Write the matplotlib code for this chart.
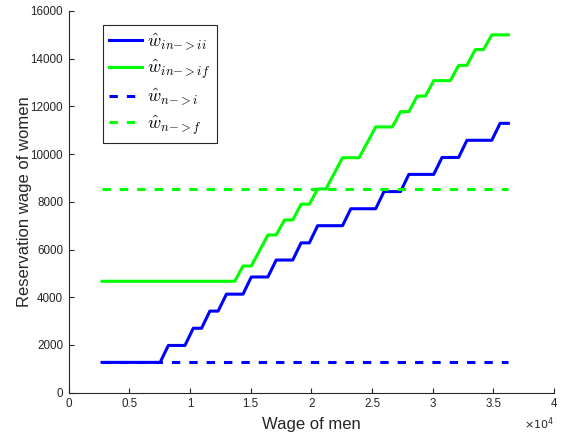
import matplotlib
matplotlib.use("Agg")
import matplotlib.pyplot as plt
from matplotlib.ticker import FuncFormatter

plt.rcParams['font.family'] = ['Liberation Sans', 'DejaVu Sans']
plt.rcParams['mathtext.fontset'] = 'cm'
plt.rcParams['lines.scale_dashes'] = False

# --- data (vertices) ---
blue_x = [2745, 7530, 8214, 9581, 10265, 10948, 11632, 12315, 12999, 14366,
          15050, 16417, 17101, 18468, 19152, 19835, 20519, 22569, 23253, 25304,
          25987, 27355, 28038, 30089, 30773, 32140, 32824, 34875, 35558, 36242]
blue_y = [1270, 1270, 1980, 1980, 2700, 2700, 3420, 3420, 4130, 4130,
          4850, 4850, 5560, 5560, 6280, 6280, 7000, 7000, 7710, 7710,
          8430, 8430, 9150, 9150, 9860, 9860, 10580, 10580, 11290, 11290]

green_x = [2745, 13683, 14366, 15050, 16417, 17101, 17784, 18468, 19152, 19835,
           20519, 21202, 22569, 23937, 25304, 26671, 27355, 28038, 28722, 29405,
           30089, 31457, 32140, 32824, 33508, 34192, 34875, 36242]
green_y = [4670, 4670, 5310, 5310, 6610, 6610, 7240, 7240, 7900, 7900,
           8540, 8540, 9850, 9850, 11140, 11140, 11780, 11780, 12430, 12430,
           13080, 13080, 13720, 13720, 14380, 14380, 15000, 15000]

dash_x = [2745, 36242]
blue_dash_y = [1270, 1270]
green_dash_y = [8550, 8550]

labels = [r'$\hat{w}_{in{-}{>}ii}$', r'$\hat{w}_{in{-}{>}if}$',
          r'$\hat{w}_{n{-}{>}i}$', r'$\hat{w}_{n{-}{>}f}$']

x_ticks = [0, 5000, 10000, 15000, 20000, 25000, 30000, 35000, 40000]
y_ticks = [0, 2000, 4000, 6000, 8000, 10000, 12000, 14000, 16000]

fig = plt.figure(figsize=(5.61, 4.37), dpi=100)
ax = fig.add_axes([0.1225, 0.1014, 0.865, 0.8735])

lw = 2.2
dash = (6, 6.5)
ax.plot(blue_x, blue_y, color=(0, 0, 1), lw=lw, label=labels[0])
ax.plot(green_x, green_y, color=(0, 1, 0), lw=lw, label=labels[1])
ax.plot(dash_x, blue_dash_y, color=(0, 0, 1), lw=lw, ls='--', dashes=dash, label=labels[2])
ax.plot(dash_x, green_dash_y, color=(0, 1, 0), lw=lw, ls='--', dashes=dash, label=labels[3])

ax.set_xlim(0, 40000)
ax.set_ylim(0, 16000)
ax.set_xticks(x_ticks)
ax.set_yticks(y_ticks)
ax.xaxis.set_major_formatter(FuncFormatter(lambda v, p: '%g' % (v / 1e4)))
ax.yaxis.set_major_formatter(FuncFormatter(lambda v, p: '%d' % v))

axcol = (0.15, 0.15, 0.15)
for s in ['top', 'right']:
    ax.spines[s].set_visible(False)
for s in ['left', 'bottom']:
    ax.spines[s].set_color(axcol)
    ax.spines[s].set_linewidth(0.8)
ax.tick_params(direction='in', length=3.5, width=0.8, colors=axcol,
               labelsize=8.4, pad=4)

ax.set_xlabel('Wage of men', fontsize=12, color=axcol, labelpad=5)
ax.set_ylabel('Reservation wage of women', fontsize=12, color=axcol, labelpad=-1)

ax.text(1.0, -0.06, r'$\times10^{4}$', transform=ax.transAxes, ha='right',
        va='top', fontsize=8, color=axcol,
        fontfamily='DejaVu Sans', math_fontfamily='dejavusans')

leg = ax.legend(loc='upper left', bbox_to_anchor=(0.0707, 0.963), borderaxespad=0,
                fontsize=13, handlelength=1.8, handletextpad=0.3, labelspacing=0.3,
                borderpad=0.35, fancybox=False, framealpha=1, edgecolor=axcol)
leg.get_frame().set_linewidth(0.8)

fig.savefig('out.png', dpi=100)
